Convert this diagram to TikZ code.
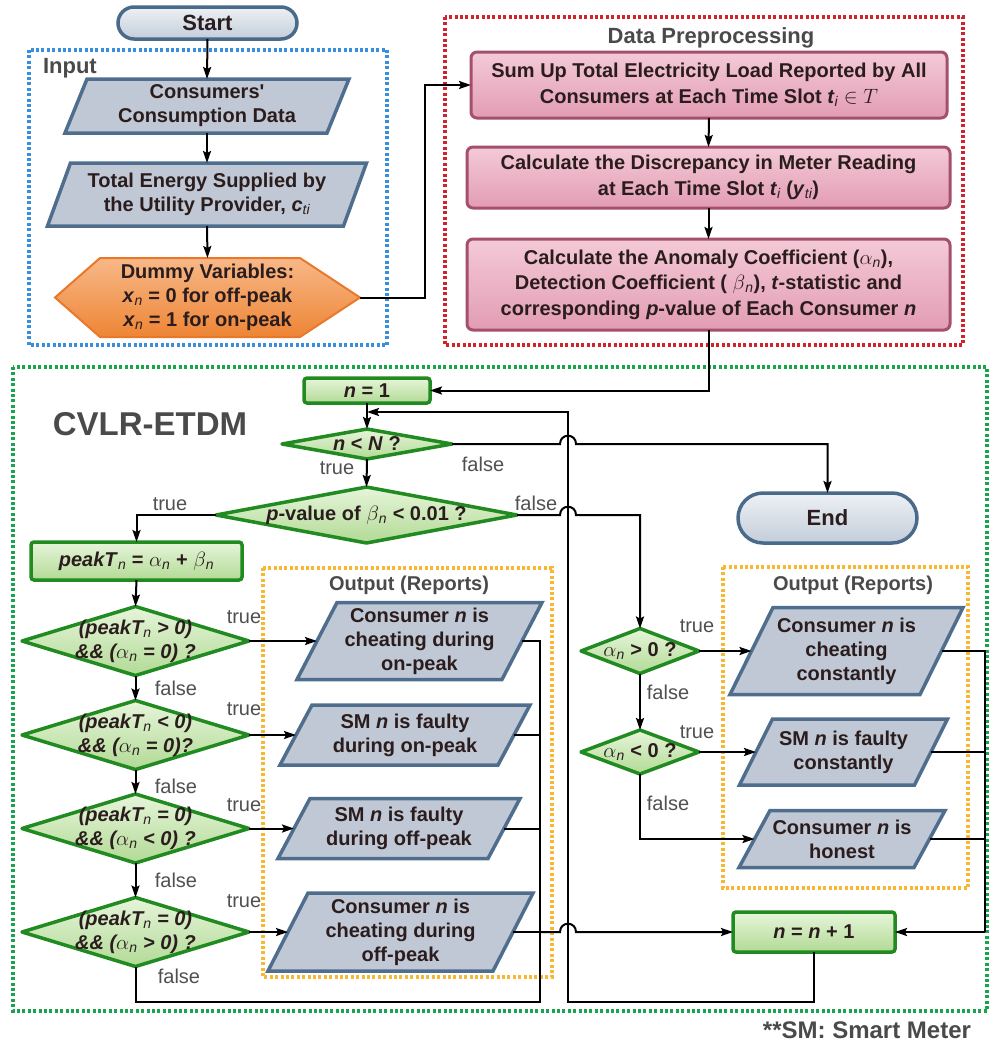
\documentclass[tikz,border=0pt]{standalone}
\usepackage{fontspec}
\setmainfont{Liberation Sans}
\usetikzlibrary{arrows.meta,backgrounds}
\definecolor{txt}{HTML}{2B1D1D}
\definecolor{ttlc}{HTML}{4A4A4A}
\definecolor{lblc}{HTML}{505050}
\definecolor{capb}{HTML}{4A6A8A}
\definecolor{capt}{HTML}{EEF1F5}
\definecolor{capbo}{HTML}{C3CDDA}
\definecolor{parb}{HTML}{4F6E8E}
\definecolor{parf}{HTML}{C0C8D5}
\definecolor{hexb}{HTML}{E9782A}
\definecolor{hext}{HTML}{F7B888}
\definecolor{hexbo}{HTML}{EE8535}
\definecolor{pinkb}{HTML}{A54F6E}
\definecolor{pinkt}{HTML}{F4CAD7}
\definecolor{pinkbo}{HTML}{E29CB4}
\definecolor{grb}{HTML}{218A21}
\definecolor{grt}{HTML}{E6F5DA}
\definecolor{grbo}{HTML}{B2DA95}
\definecolor{dotblue}{HTML}{3A8FDC}
\definecolor{dotred}{HTML}{D2232A}
\definecolor{dotgreen}{HTML}{19A54B}
\definecolor{dotorange}{HTML}{F7B731}
\newcommand\sbn{\textsubscript{\mdseries\itshape n}}
\newcommand\sbs[1]{\textsubscript{\mdseries\itshape #1}}
\newcommand\paral[2]{\path[parashape] ([xshift=-#2/2]#1.south west) -- ([xshift=#2/2]#1.north west) -- ([xshift=#2/2]#1.north east) -- ([xshift=-#2/2]#1.south east) -- cycle;}
\newcommand\diam[1]{\path[diashape] (#1.west) -- (#1.north) -- (#1.east) -- (#1.south) -- cycle;}
\begin{document}
\begin{tikzpicture}[x=1pt,y=-1pt,
  every node/.style={inner sep=0pt,outer sep=0pt},
  base/.style={align=center,font=\fontsize{20}{24}\selectfont\bfseries,text=txt},
  capsule/.style={base,font=\fontsize{22}{26}\selectfont\bfseries,draw=capb,line width=3.5pt,top color=capt,bottom color=capbo},
  pinkbox/.style={base,font=\fontsize{20}{25.5}\selectfont\bfseries,draw=pinkb,line width=3pt,top color=pinkt,bottom color=pinkbo,rounded corners=6},
  greenbox/.style={base,draw=grb,line width=3.5pt,top color=grt,bottom color=grbo,rounded corners=3},
  parashape/.style={draw=parb,line width=3.5pt,fill=parf,line join=miter},
  diashape/.style={draw=grb,line width=3.5pt,top color=grt,bottom color=grbo,line join=round},
  hexshape/.style={draw=hexb,line width=2pt,top color=hext,bottom color=hexbo},
  lbl/.style={font=\fontsize{20}{24}\selectfont,text=lblc},
  ttl/.style={font=\fontsize{22}{26}\selectfont\bfseries,text=ttlc},
  ttls/.style={font=\fontsize{20}{24}\selectfont\bfseries,text=ttlc},
  dotbox/.style={line width=3.2pt,dash pattern=on 3pt off 2.4pt},
  ln/.style={line width=2pt,draw=black},
  arr/.style={ln,-{Stealth[length=12pt,width=8pt,inset=2pt]}}
]
\useasboundingbox (0,0) rectangle (989,1044);

% ---------- Input ----------
\node[capsule,minimum width=179,minimum height=32,rounded corners=16] (start) at (207.5,23) {Start};
\node[ttl,anchor=west] (inputlbl) at (43,68) {Input};
\node[base,minimum width=262,minimum height=54] (c1) at (207,106) {Consumers\textquotesingle\\Consumption Data};
\node[base,minimum width=296,minimum height=63] (c2) at (207,194.5) {Total Energy Supplied by\\the Utility Provider, \textit{c}\sbs{ti}};
\node[base,minimum width=305,minimum height=79] (hex) at (207.5,297.5) {Dummy Variables:\\\textit{x}\sbn{} = 0 for off-peak\\\textit{x}\sbn{} = 1 for on-peak};

% ---------- Data preprocessing ----------
\node[ttl] (dplbl) at (711,38) {Data Preprocessing};
\node[pinkbox,minimum width=476,minimum height=66] (s1) at (709,85) {Sum Up Total Electricity Load Reported by All\\Consumers at Each Time Slot \textit{t}\sbs{i} $\in T$};
\node[pinkbox,minimum width=483,minimum height=61] (s2) at (708.5,177.5) {Calculate the Discrepancy in Meter Reading\\at Each Time Slot \textit{t}\sbs{i} (\textit{y}\sbs{ti})};
\node[pinkbox,minimum width=483,minimum height=91] (s3) at (708.5,284.5) {Calculate the Anomaly Coefficient ($\alpha$\sbn),\\Detection Coefficient ( $\beta$\sbn), \textit{t}-statistic and\\corresponding \textit{p}-value of Each Consumer \textit{n}};

% ---------- CVLR-ETDM ----------
\node[font=\fontsize{33}{36}\selectfont\bfseries,text=ttlc] (cvlr) at (150,424) {CVLR-ETDM};
\node[greenbox,minimum width=126,minimum height=25] (n1) at (367,390.5) {\textit{n} = 1};
\node[base,minimum width=170,minimum height=30] (nN) at (367,444) {\textit{n} < \textit{N} ?};
\node[base,minimum width=301,minimum height=56] (pv) at (366.5,515) {\textit{p}-value of $\beta$\sbn{} < 0.01 ?};
\node[greenbox,minimum width=211,minimum height=38] (pk) at (136.5,561) {\textit{peakT}\sbn{} = $\alpha$\sbn{} + $\beta$\sbn};
\node[base,minimum width=227,minimum height=69] (d1) at (135.5,641) {\textit{(peakT\sbn{} > 0)}\\\textit{\&\& ($\alpha$\sbn{} = 0) ?}};
\node[base,minimum width=227,minimum height=69] (d2) at (135.5,735) {\textit{(peakT\sbn{} < 0)}\\\textit{\&\& ($\alpha$\sbn{} = 0)?}};
\node[base,minimum width=227,minimum height=69] (d3) at (135.5,828.5) {\textit{(peakT\sbn{} = 0)}\\\textit{\&\& ($\alpha$\sbn{} < 0) ?}};
\node[base,minimum width=227,minimum height=69] (d4) at (135.5,932) {\textit{(peakT\sbn{} = 0)}\\\textit{\&\& ($\alpha$\sbn{} > 0) ?}};

\node[ttls] (out1) at (409,585) {Output (Reports)};
\node[base,minimum width=205,minimum height=77] (p1) at (419.5,641) {Consumer \textit{n} is\\cheating during\\on-peak};
\node[base,minimum width=218,minimum height=60] (p2) at (405,735) {SM \textit{n} is faulty\\during on-peak};
\node[base,minimum width=210,minimum height=60] (p3) at (399,828.5) {SM \textit{n} is faulty\\during off-peak};
\node[base,minimum width=225,minimum height=78] (p4) at (400.5,932) {Consumer \textit{n} is\\cheating during\\off-peak};

\node[capsule,minimum width=179,minimum height=50,rounded corners=25] (end) at (827.5,518) {End};
\node[base,minimum width=118,minimum height=45] (a1) at (640,651) {$\alpha$\sbn{} > 0 ?};
\node[base,minimum width=118,minimum height=44] (a2) at (640,752) {$\alpha$\sbn{} < 0 ?};
\node[ttls] (out2) at (853,585) {Output (Reports)};
\node[base,minimum width=190,minimum height=87] (r1) at (846.5,651) {Consumer \textit{n} is\\cheating\\constantly};
\node[base,minimum width=175,minimum height=66] (r2) at (843.5,752) {SM \textit{n} is faulty\\constantly};
\node[base,minimum width=175,minimum height=57] (r3) at (842,839) {Consumer \textit{n} is\\honest};
\node[greenbox,minimum width=162,minimum height=40] (np) at (814,932) {\textit{n} = \textit{n} + 1};

\node[font=\fontsize{24}{28}\selectfont\bfseries,text=ttlc,anchor=east] (smnote) at (971,1030) {**SM: Smart Meter};

% labels
\node[lbl] (lt0) at (337,468) {true};
\node[lbl] (lf0) at (483,464) {false};
\node[lbl] (lt1) at (170,504) {true};
\node[lbl] (lf1) at (536,503) {false};
\node[lbl] (lt2) at (244,617) {true};
\node[lbl] (lt3) at (244,709) {true};
\node[lbl] (lt4) at (244,805) {true};
\node[lbl] (lt5) at (244,901) {true};
\node[lbl] (lf2) at (176,688) {false};
\node[lbl] (lf3) at (176,786) {false};
\node[lbl] (lf4) at (176,880) {false};
\node[lbl] (lf5) at (179,976) {false};
\node[lbl] (lt6) at (697,626) {true};
\node[lbl] (lt7) at (697,732) {true};
\node[lbl] (lf6) at (668,692) {false};
\node[lbl] (lf7) at (668,803) {false};

% coordinates
\coordinate (mrg) at (540,932);
\coordinate (bot) at (540,1002);
\coordinate (rmrg) at (985,932);
\coordinate (lp) at (568,1002);
\coordinate (lpj) at (367,412);

% ---------- background shapes ----------
\begin{pgfonlayer}{background}
\draw[dotbox,draw=dotblue] (29,50) rectangle (387,345);
\draw[dotbox,draw=dotred] (445,17) rectangle (963,345);
\draw[dotbox,draw=dotgreen] (13,367) rectangle (987,1011);
\draw[dotbox,draw=dotorange] (263,568) rectangle (552,977);
\draw[dotbox,draw=dotorange] (723,567) rectangle (968,888);
\paral{c1}{22}
\paral{c2}{23}
\path[hexshape] (hex.west) -- ([xshift=45]hex.north west) -- ([xshift=-60]hex.north east) -- (hex.east) -- ([xshift=-60]hex.south east) -- ([xshift=45]hex.south west) -- cycle;
\diam{nN}
\diam{pv}
\diam{d1}
\diam{d2}
\diam{d3}
\diam{d4}
\diam{a1}
\diam{a2}
\paral{p1}{40}
\paral{p2}{32}
\paral{p3}{32}
\paral{p4}{40}
\paral{r1}{43}
\paral{r2}{33}
\paral{r3}{31}
\end{pgfonlayer}

% ---------- connectors ----------
\draw[arr] (start.south) -- (c1.north);
\draw[arr] (c1.south) -- (c2.north);
\draw[arr] (c2.south) -- (hex.north);
\draw[arr] (hex.east) -- (425,297.5) |- (s1.west);
\draw[arr] (s1.south) -- (s2.north);
\draw[arr] (s2.south) -- (s3.north);
\draw[arr] (s3.south) |- (n1.east);
\draw[arr] (n1.south) -- (nN.north);
\draw[arr] (np.south) |- (lp) -- (lp |- lpj) -- (lpj);
\draw[arr] (nN.east) -- (560,444) .. controls (560,433) and (576,433) .. (576,444) -| (end.north);
\draw[arr] (nN.south) -- (pv.north);
\draw[arr] (pv.east) -- (560,515) .. controls (560,504) and (576,504) .. (576,515) -| (a1.north);
\draw[arr] (pv.west) -| (pk.north);
\draw[arr] (pk.south) -- (d1.north);
\draw[arr] (d1.south) -- (d2.north);
\draw[arr] (d2.south) -- (d3.north);
\draw[arr] (d3.south) -- (d4.north);
\draw[arr] (d1.east) -- (p1.west);
\draw[arr] (d2.east) -- (p2.west);
\draw[arr] (d3.east) -- (p3.west);
\draw[arr] (d4.east) -- (p4.west);
\draw[ln] (p1.east) -| (mrg);
\draw[ln] (p2.east) -| (mrg);
\draw[ln] (p3.east) -| (mrg);
\draw[ln] (p4.east) -- (mrg);
\draw[ln] (d4.south) |- (bot) -- (mrg);
\draw[arr] (mrg) -- (560,932) .. controls (560,921) and (576,921) .. (576,932) -- (np.west);
\draw[arr] (a1.east) -- (r1.west);
\draw[arr] (a1.south) -- (a2.north);
\draw[arr] (a2.east) -- (r2.west);
\draw[arr] (a2.south) |- (r3.west);
\draw[ln] (r1.east) -| (rmrg);
\draw[ln] (r2.east) -| (rmrg);
\draw[ln] (r3.east) -| (rmrg);
\draw[arr] (rmrg) -- (np.east);
\end{tikzpicture}
\end{document}
